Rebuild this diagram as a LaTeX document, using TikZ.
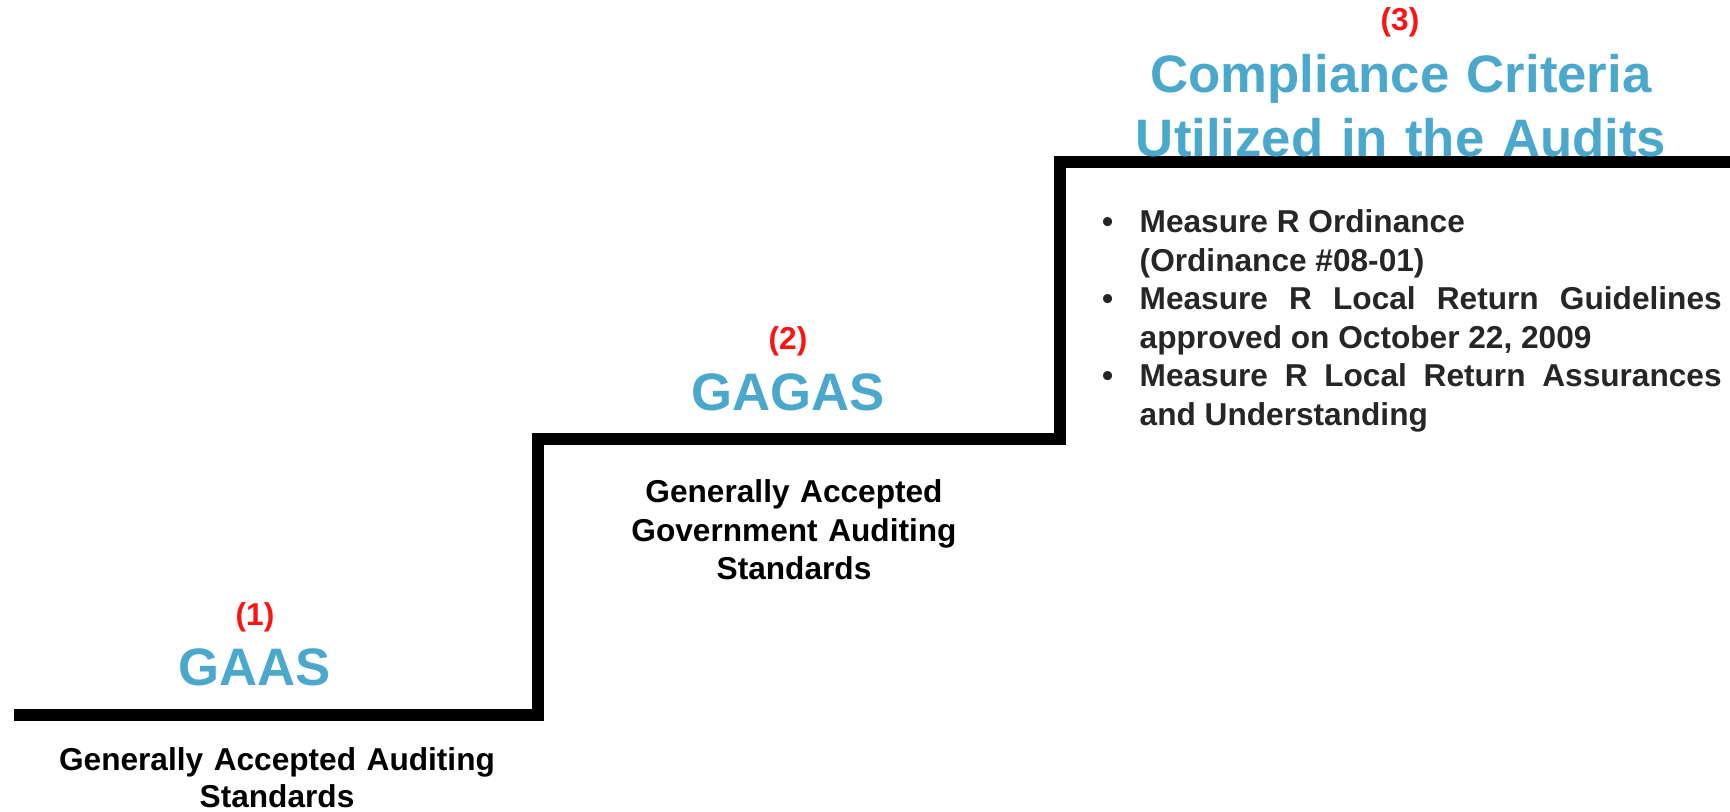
\documentclass[tikz,border=0pt]{standalone}
\usepackage{fontspec}
\setmainfont{Liberation Sans}
\definecolor{stepblue}{RGB}{75,168,205}
\definecolor{stepred}{RGB}{250,20,20}
\definecolor{itemgray}{RGB}{38,38,38}
\setlength{\parindent}{0pt}
\newcommand{\bul}{\leavevmode\llap{\textbullet\hspace{0.265cm}}}

\begin{document}
\begin{tikzpicture}[every node/.style={inner sep=0pt},
  num/.style={anchor=base, text=stepred, font=\bfseries\fontsize{9pt}{11pt}\selectfont},
  head/.style={anchor=base, text=stepblue, font=\bfseries\fontsize{15pt}{18.2pt}\selectfont},
  desc/.style={anchor=base, align=center, font=\bfseries\fontsize{9pt}{10.4pt}\selectfont}]
\useasboundingbox (0,0) rectangle (17.30,8.12);

% the stairs
\path (0.14,0.97) coordinate (S0);
\path (5.38,0.97) coordinate (S1);
\path (5.38,3.725) coordinate (S2);
\path (10.60,3.725) coordinate (S3);
\path (10.60,6.495) coordinate (S4);
\path (17.30,6.495) coordinate (S5);

\draw [line width=0.12cm] (S0) -- (S1) -- (S2) -- (S3) -- (S4) -- (S5);

% step 1
\path (2.55,1.86) node (n1) [num] {(1)};
\path (2.55,1.26) node (gaas) [head] {GAAS};
\path (2.77,0.41) node (gaasdesc) [desc, text width=5cm] {Generally Accepted Auditing\\ Standards};

% step 2
\path (7.88,4.62) node (n2) [num] {(2)};
\path (7.88,4.01) node (gagas) [head] {GAGAS};
\path (7.94,3.09) node (gagasdesc) [desc, text width=4cm, font=\bfseries\fontsize{9pt}{10.95pt}\selectfont] {Generally Accepted\\ Government Auditing\\ Standards};

% step 3
\path (14.00,7.81) node (n3) [num] {(3)};
\path (14.01,7.19) node (crit) [head, text width=6cm, align=center] {Compliance Criteria\\ Utilized in the Audits};
\path (11.39,5.79) node (items) [anchor=base west, text width=5.82cm, align=justify, text=itemgray,
  font=\bfseries\fontsize{9pt}{10.95pt}\selectfont]
  {\tolerance=10000\hyphenpenalty=10000
   \bul Measure R Ordinance\\ (Ordinance \#08-01)\par
   \bul Measure R Local Return Guidelines approved on October 22, 2009\par
   \bul Measure R Local Return Assurances and Understanding};

\end{tikzpicture}
\end{document}
